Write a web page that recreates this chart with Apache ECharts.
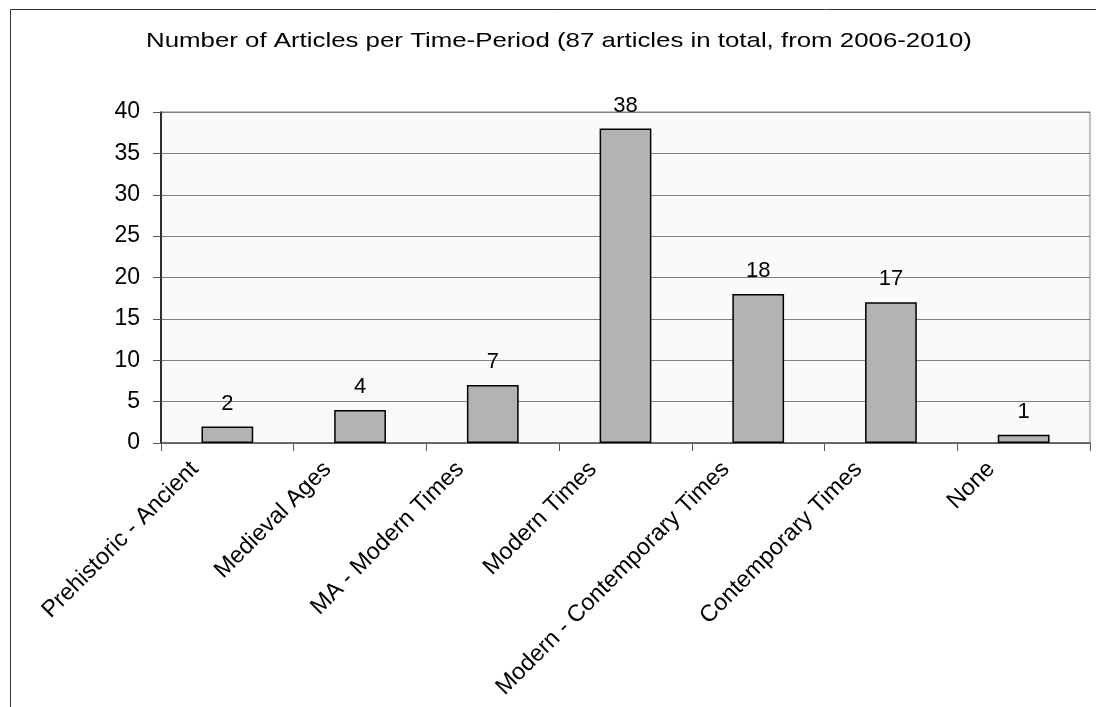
<!DOCTYPE html>
<html>
<head>
<meta charset="utf-8">
<script src="https://cdn.jsdelivr.net/npm/echarts@6/dist/echarts.min.js"></script>
<style>
  html, body { margin: 0; padding: 0; background: #fff; }
  #chart { width: 1096px; height: 707px; }
</style>
</head>
<body>
<div id="chart"></div>
<script>
// Articles per historical time period
const categories = [
  'Prehistoric - Ancient',
  'Medieval Ages',
  'MA - Modern Times',
  'Modern Times',
  'Modern - Contemporary Times',
  'Contemporary Times',
  'None'
];
const articleCounts = [2, 4, 7, 38, 18, 17, 1];
const titleText = 'Number of Articles per Time-Period (87 articles in total, from 2006-2010)';

const font = 'Liberation Sans, Arial, sans-serif';
const chart = echarts.init(document.getElementById('chart'));

chart.setOption({
  animation: false,
  backgroundColor: '#ffffff',
  graphic: [{
    type: 'rect',
    shape: { x: 10.5, y: 9.5, width: 1200, height: 800 },
    style: { fill: 'none', stroke: '#333', lineWidth: 1 },
    silent: true
  }, {
    // chart title, drawn slightly widened
    type: 'text',
    x: 146, y: 41,
    scaleX: 1.23,
    style: {
      text: titleText,
      font: '21px "Liberation Sans", Arial, sans-serif',
      fill: '#000',
      verticalAlign: 'middle'
    },
    silent: true
  }],
  grid: {
    left: 161, right: 6, top: 112, bottom: 264,
    show: true, backgroundColor: '#fafafa', borderColor: '#808080', borderWidth: 1
  },
  xAxis: {
    type: 'category',
    data: categories,
    axisLine: { lineStyle: { color: '#555', width: 1.5 } },
    axisTick: { show: true, alignWithLabel: false, length: 8, lineStyle: { color: '#555' } },
    axisLabel: {
      rotate: 45, margin: -10, interval: 0,
      padding: [0, 46, 0, 0],
      fontFamily: font, fontSize: 23.5, color: '#000'
    },
    splitLine: { show: false }
  },
  yAxis: {
    type: 'value',
    min: 0, max: 40, interval: 5,
    axisLine: { show: true, lineStyle: { color: '#000', width: 1.5 } },
    axisTick: { show: true, length: 8, lineStyle: { color: '#555' } },
    axisLabel: { fontFamily: font, fontSize: 23, color: '#000', margin: 21 },
    splitLine: { show: true, lineStyle: { color: '#808080', width: 1 } }
  },
  series: [{
    type: 'bar',
    data: articleCounts,
    barWidth: '39%',
    itemStyle: { color: '#b3b3b3', borderColor: '#000', borderWidth: 1.5 },
    label: {
      show: true, position: 'top', distance: 12,
      fontFamily: font, fontSize: 22, color: '#000'
    }
  }]
});
</script>
</body>
</html>
